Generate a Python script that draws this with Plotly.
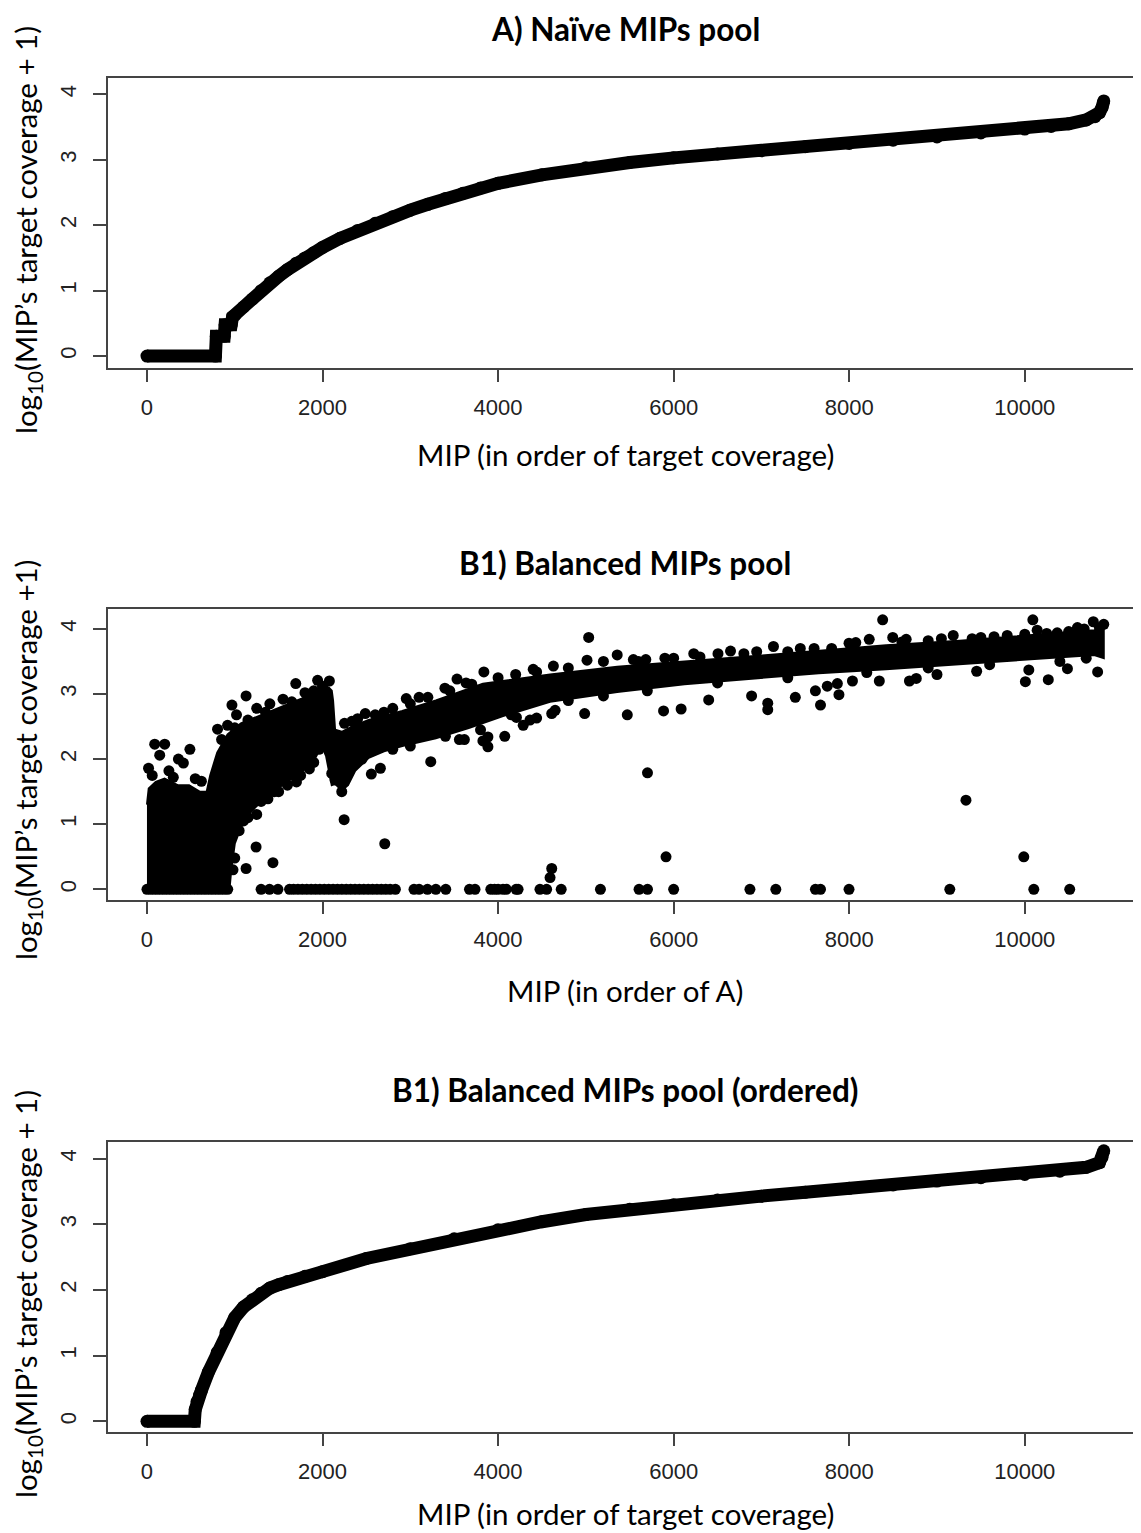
import plotly.graph_objects as go

# ---------------------------------------------------------
# Data
# ---------------------------------------------------------

# A) naive pool, sorted coverage
naive_x = [0, 780, 790, 880, 890, 960, 975, 1000, 1100, 1200, 1300, 1400, 1500, 1600,
           1700, 1800, 1900, 2000, 2200, 2400, 2600, 2800, 3000, 3200, 3400, 3600,
           3800, 4000, 4500, 5000, 5500, 6000, 6500, 7000, 7500, 8000, 8500, 9000,
           9500, 10000, 10300, 10500, 10700, 10800, 10850, 10880, 10900]
naive_y = [0, 0, 0.301, 0.301, 0.477, 0.477, 0.6, 0.62, 0.75, 0.87, 1.0, 1.12, 1.22, 1.32,
           1.42, 1.5, 1.58, 1.66, 1.8, 1.92, 2.03, 2.13, 2.23, 2.32, 2.41, 2.49,
           2.57, 2.64, 2.77, 2.88, 2.96, 3.03, 3.09, 3.14, 3.2, 3.25, 3.3, 3.35,
           3.41, 3.47, 3.51, 3.55, 3.61, 3.66, 3.72, 3.8, 3.9]

# B1) balanced pool, ordered as A: dense core of the cloud (outline)
band_x = [0, 940, 960, 1000, 1070, 1190, 1380, 1570, 1760, 1910, 1990, 2040, 2080, 2105,
          2143, 2219, 2290, 2372, 2526, 2700, 2908, 3291, 3674, 4056, 4592, 5357, 6123,
          6888, 7653, 8420, 9260, 10026, 10791, 10900,
          10900, 10791, 10026, 9260, 8420, 7653, 6888, 6123, 5357, 4592, 3827, 3291,
          2908, 2526, 2334, 2219, 2143, 2120, 2105, 2070, 1950, 1760, 1530, 1300, 1070,
          918, 800, 720, 680, 600, 480, 350, 200, 100, 20, 0]
band_y = [0, 0, 0.3, 0.7, 0.95, 1.2, 1.45, 1.62, 1.8, 2.0, 2.2, 2.05, 1.75, 1.6,
          1.62, 1.52, 1.6, 1.82, 2.02, 2.12, 2.2, 2.32, 2.48, 2.66, 2.88, 3.03, 3.15,
          3.24, 3.32, 3.38, 3.46, 3.53, 3.6, 3.55,
          4.0, 3.98, 3.9, 3.82, 3.75, 3.66, 3.58, 3.5, 3.42, 3.3, 3.16, 2.9,
          2.74, 2.6, 2.5, 2.42, 2.45, 2.9, 3.05, 3.1, 3.05, 2.93, 2.8, 2.68, 2.55,
          2.38, 2.1, 1.75, 1.5, 1.5, 1.6, 1.6, 1.7, 1.65, 1.55, 1.3]

# B1) individual points outside the dense core
b1_dot_x = [18, 88, 202, 145, 489, 358, 415, 60, 250, 300, 550, 620, 980, 1000,
            804, 918, 968, 1129, 1020, 1250, 1400, 1550, 1695, 1800, 1944, 2078, 2000,
            850, 1000, 1150, 1350, 1650, 1900,
            1129, 1243, 1435, 1378, 1703, 1100, 1250, 1500, 1850, 1960, 2105, 2143,
            2219, 2246, 1050, 1150, 1300, 1450, 1600, 1750, 1900,
            2334, 2487, 2700, 2954, 3100, 3394, 3532, 3635, 3838, 4000, 4439, 4630,
            4800, 5013, 5032, 5200, 5357, 5541, 5683, 5900, 6229, 6505, 6648, 6946,
            7137, 7443, 7800, 7998, 8075, 8228, 8381, 8496, 8649, 8900, 9185, 9500,
            9800, 10092, 10141, 10370, 10677, 10781, 10900,
            2250, 2400, 2600, 2800, 3000, 3200, 3450, 3700, 4200, 4400, 5600, 6000,
            6300, 6800, 7300, 7600, 8600, 9050, 9400, 9650, 10000, 10250, 10500,
            10600, 10850,
            2556, 2659, 2709, 3233, 3559, 3616, 3827, 3884, 3884, 4076, 4209, 4286,
            4363, 4439, 4611, 4650, 4986, 5472, 5885, 6085, 6399, 6888, 7072, 7072,
            7386, 7615, 7673, 7750, 7865, 7883, 8037, 8343, 8686, 8764, 9000, 9452,
            10007, 10046, 10268, 10486, 10830,
            2300, 2450, 2800, 3000, 3400, 3800, 4150, 4800, 5200, 5700, 6500, 7300,
            8200, 8900, 9600, 10400, 10700,
            4592, 4611, 5702, 5913, 9330, 9989]
b1_dot_y = [1.86, 2.23, 2.23, 2.06, 2.15, 2.0, 1.94, 1.75, 1.82, 1.72, 1.7, 1.66, 0.3, 0.48,
            2.46, 2.52, 2.83, 2.97, 2.68, 2.78, 2.85, 2.92, 3.16, 3.02, 3.21, 3.2, 3.12,
            2.3, 2.48, 2.6, 2.72, 2.88, 3.05,
            0.32, 0.65, 0.41, 1.39, 1.65, 1.05, 1.15, 1.5, 1.85, 2.15, 1.78, 1.68,
            1.5, 1.07, 0.9, 1.1, 1.35, 1.5, 1.6, 1.75, 1.95,
            2.58, 2.7, 2.72, 2.93, 2.95, 3.09, 3.23, 3.17, 3.34, 3.25, 3.34, 3.43,
            3.4, 3.52, 3.87, 3.5, 3.6, 3.53, 3.53, 3.55, 3.62, 3.62, 3.66, 3.65,
            3.73, 3.7, 3.7, 3.78, 3.79, 3.84, 4.14, 3.87, 3.84, 3.82, 3.9, 3.87,
            3.9, 4.14, 3.98, 3.94, 4.0, 4.11, 4.07,
            2.55, 2.62, 2.68, 2.78, 2.85, 2.95, 3.05, 3.15, 3.3, 3.38, 3.5, 3.55,
            3.57, 3.62, 3.65, 3.7, 3.8, 3.85, 3.85, 3.88, 3.92, 3.93, 3.96,
            4.02, 4.02,
            1.77, 1.86, 0.7, 1.96, 2.3, 2.3, 2.28, 2.19, 2.34, 2.35, 2.64, 2.52,
            2.6, 2.63, 2.7, 2.75, 2.7, 2.68, 2.74, 2.77, 2.91, 2.97, 2.76, 2.86,
            2.95, 3.05, 2.83, 3.12, 3.16, 2.99, 3.2, 3.2, 3.2, 3.24, 3.3, 3.35,
            3.19, 3.37, 3.22, 3.39, 3.34,
            1.9, 2.0, 2.15, 2.2, 2.35, 2.45, 2.68, 2.9, 2.97, 3.05, 3.17, 3.25,
            3.33, 3.4, 3.45, 3.5, 3.55,
            0.18, 0.32, 1.79, 0.5, 1.37, 0.5]

# B1) MIPs with zero coverage
b1_zero_x = [0, 40, 80, 120, 160, 200, 240, 280, 320, 360, 400, 440, 480, 520, 560, 600,
             640, 680, 720, 760, 800, 840, 880, 920,
             1300, 1396, 1492, 1624, 1670, 1720, 1770, 1820, 1870, 1920, 1970, 2020,
             2070, 2120, 2170, 2220, 2270, 2320, 2370, 2420, 2470, 2520, 2570, 2620,
             2670, 2720, 2770, 2830, 3042, 3100, 3195, 3291, 3404, 3674, 3737, 3917,
             3960, 4000, 4056, 4094, 4205, 4228, 4477, 4553, 4719, 5166, 5606, 5702,
             6000, 6869, 7164, 7615, 7673, 7998, 9146, 10103, 10512]

# B1) balanced pool, sorted coverage
ordered_x = [0, 540, 550, 570, 600, 620, 700, 800, 900, 1000, 1100, 1200, 1300, 1400,
             1500, 1600, 1800, 2000, 2500, 3000, 3500, 4000, 4500, 5000, 5500, 6000,
             6500, 7000, 7500, 8000, 8500, 9000, 9500, 10000, 10400, 10700, 10850,
             10880, 10900]
ordered_y = [0, 0, 0.18, 0.3, 0.4, 0.47, 0.75, 1.05, 1.35, 1.58, 1.74, 1.85, 1.95, 2.03,
             2.08, 2.13, 2.21, 2.28, 2.48, 2.63, 2.78, 2.92, 3.04, 3.15, 3.23, 3.3,
             3.37, 3.43, 3.49, 3.55, 3.6, 3.66, 3.71, 3.76, 3.81, 3.87, 3.94,
             4.02, 4.12]

X_TICKS = [0, 2000, 4000, 6000, 8000, 10000]
X_TICK_TEXT = ["0", "2000", "4000", "6000", "8000", "10000"]
Y_TICKS = [0, 1, 2, 3, 4]

# ---------------------------------------------------------
# Figure
# ---------------------------------------------------------

# The page adds an 8 px body margin, so the figure is 8 px smaller and
# all pixel positions below are measured on the reference minus 8.
OFF = 8
W, H = 1141 - OFF, 1533 - OFF
AXIS_COLOR = "#444444"
TICK_FONT = dict(family="Liberation Sans, Arial", size=22, color="#222222")
LABEL_FONT = dict(family="Lato", size=29.5, color="black")
TITLE_FONT = dict(family="Lato", size=31.5, color="black")


def px(pixel_x):
    return (pixel_x - OFF) / W


def py(pixel_y):
    return 1 - (pixel_y - OFF) / H


fig = go.Figure()

fig.add_trace(go.Scatter(
    x=naive_x, y=naive_y, mode="lines+markers",
    line=dict(color="black", width=13),
    marker=dict(color="black", size=13),
    xaxis="x", yaxis="y"
))

fig.add_trace(go.Scatter(
    x=band_x, y=band_y, mode="lines", fill="toself",
    fillcolor="black", line=dict(color="black", width=2),
    xaxis="x2", yaxis="y2"
))
fig.add_trace(go.Scatter(
    x=b1_dot_x, y=b1_dot_y, mode="markers",
    marker=dict(color="black", size=11),
    xaxis="x2", yaxis="y2"
))
fig.add_trace(go.Scatter(
    x=b1_zero_x, y=[0] * len(b1_zero_x), mode="markers",
    marker=dict(color="black", size=11),
    xaxis="x2", yaxis="y2"
))

fig.add_trace(go.Scatter(
    x=ordered_x, y=ordered_y, mode="lines+markers",
    line=dict(color="black", width=13),
    marker=dict(color="black", size=13),
    xaxis="x3", yaxis="y3"
))

x_style = dict(
    range=[-444, 11416 - OFF * 11.48], tickvals=X_TICKS, ticktext=X_TICK_TEXT,
    ticks="outside", ticklen=12, tickwidth=2,
    tickcolor=AXIS_COLOR, showline=True, linecolor=AXIS_COLOR, linewidth=2,
    mirror=True, showgrid=False, zeroline=False, tickfont=TICK_FONT,
    ticklabelstandoff=7, domain=[px(108), 1.0]
)
y_style = dict(
    tickvals=Y_TICKS, ticks="outside", ticklen=13, tickwidth=2, tickcolor=AXIS_COLOR,
    showline=True, linecolor=AXIS_COLOR, linewidth=2, showgrid=False,
    zeroline=False, tickfont=TICK_FONT, tickangle=-90, ticklabelstandoff=8
)

fig.update_layout(
    width=W, height=H,
    margin=dict(l=0, r=0, t=0, b=0),
    paper_bgcolor="white", plot_bgcolor="white",
    showlegend=False,
    xaxis=dict(**x_style, anchor="y"),
    yaxis=dict(**y_style, anchor="x", range=[-0.183, 4.251], domain=[py(368), py(78)]),
    xaxis2=dict(**x_style, anchor="y2"),
    yaxis2=dict(**y_style, anchor="x2", range=[-0.164, 4.306], domain=[py(900), py(609)]),
    xaxis3=dict(**x_style, anchor="y3"),
    yaxis3=dict(**y_style, anchor="x3", range=[-0.163, 4.255], domain=[py(1432), py(1142)]),
)

# top title sits against the top edge, the others are centred on their row
fig.add_annotation(text="<b>A) Naïve MIPs pool</b>", x=px(625), y=1.0,
                   xref="paper", yref="paper", showarrow=False, font=TITLE_FONT,
                   xanchor="center", yanchor="top")

titles = [
    ("<b>B1) Balanced MIPs pool</b>", 563),
    ("<b>B1) Balanced MIPs pool (ordered)</b>", 1090),
]
for text, y_pix in titles:
    fig.add_annotation(text=text, x=px(625), y=py(y_pix), xref="paper", yref="paper",
                       showarrow=False, font=TITLE_FONT, xanchor="center", yanchor="middle")

x_labels = [
    ("MIP (in order of target coverage)", 455),
    ("MIP (in order of A)", 990),
    ("MIP (in order of target coverage)", 1513),
]
for text, y_pix in x_labels:
    fig.add_annotation(text=text, x=px(625), y=py(y_pix), xref="paper", yref="paper",
                       showarrow=False, font=LABEL_FONT, xanchor="center", yanchor="middle")

y_labels = [
    ("log<sub>10</sub>(MIP’s target coverage + 1)", 230),
    ("log<sub>10</sub>(MIP’s target coverage +1)", 760),
    ("log<sub>10</sub>(MIP’s target coverage + 1)", 1294),
]
for text, y_pix in y_labels:
    fig.add_annotation(text=text, x=px(27), y=py(y_pix), xref="paper", yref="paper",
                       showarrow=False, font=LABEL_FONT, textangle=-90,
                       xanchor="center", yanchor="middle")

fig.write_html("out.html")
